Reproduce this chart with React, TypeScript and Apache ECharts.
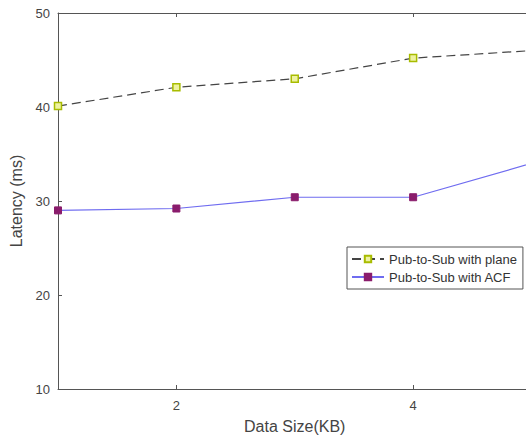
import React, { useEffect, useRef } from "react";
import * as echarts from "echarts";

const dataSizes = [1, 2, 3, 4, 5];
const planeLatency = [40.1, 42.1, 43.0, 45.2, 46.0];
const acfLatency = [29.0, 29.2, 30.4, 30.4, 34.0];
const xTickValues = [2, 4];
const seriesNames = ["Pub-to-Sub with plane", "Pub-to-Sub with ACF"];

const FONT = "Liberation Sans, Arial, sans-serif";

export default function App() {
  const ref = useRef<HTMLDivElement>(null);
  useEffect(() => {
    if (!ref.current) return;
    const chart = echarts.init(ref.current, undefined, { renderer: "svg" });
    const axisLineStyle = { color: "#555", width: 1 };
    chart.setOption({
      animation: false,
      backgroundColor: "#fff",
      textStyle: { fontFamily: FONT },
      grid: { left: 58, right: 0.5, top: 13, bottom: 50, containLabel: false },
      legend: {
        orient: "vertical",
        left: 347,
        top: 247,
        padding: [5, 6, 5, 4],
        itemGap: 4,
        itemWidth: 32,
        itemHeight: 8,
        borderColor: "#555",
        borderWidth: 1,
        backgroundColor: "#fff",
        borderRadius: 0,
        textStyle: { fontSize: 13, color: "#333", fontFamily: FONT, lineHeight: 14 },
        data: seriesNames,
      },
      xAxis: [
        {
          type: "value",
          min: 1,
          max: 5,
          name: "Data Size(KB)",
          nameLocation: "middle",
          nameGap: 29,
          nameTextStyle: { fontSize: 16, color: "#444", fontFamily: FONT },
          axisLine: { show: true, onZero: false, lineStyle: axisLineStyle },
          axisTick: { show: true, inside: true, length: 4, customValues: xTickValues, lineStyle: axisLineStyle },
          axisLabel: { show: true, customValues: xTickValues, margin: 10, fontSize: 13, color: "#444", fontFamily: FONT },
          splitLine: { show: false },
        },
        {
          type: "value",
          position: "top",
          min: 1,
          max: 5,
          axisLine: { show: true, onZero: false, lineStyle: axisLineStyle },
          axisTick: { show: true, inside: true, length: 4, customValues: xTickValues, lineStyle: axisLineStyle },
          axisLabel: { show: false },
          splitLine: { show: false },
        },
      ],
      yAxis: {
        type: "value",
        min: 10,
        max: 50,
        interval: 10,
        name: "Latency (ms)",
        nameLocation: "middle",
        nameGap: 31,
        nameRotate: 90,
        nameTextStyle: { fontSize: 16, color: "#444", fontFamily: FONT },
        axisLine: { show: true, onZero: false, lineStyle: axisLineStyle },
        axisTick: { show: true, inside: true, length: 4, lineStyle: axisLineStyle },
        axisLabel: { margin: 8, fontSize: 13, color: "#444", fontFamily: FONT },
        splitLine: { show: false },
      },
      series: [
        {
          name: seriesNames[0],
          type: "line",
          data: dataSizes.map((x, i) => [x, planeLatency[i]]),
          symbol: "rect",
          symbolSize: 7,
          itemStyle: { color: "#eef2a0", borderColor: "#a8bc00", borderWidth: 1.5 },
          lineStyle: { color: "#444", width: 1.2, type: [9, 5] },
        },
        {
          name: seriesNames[1],
          type: "line",
          data: dataSizes.map((x, i) => [x, acfLatency[i]]),
          symbol: "rect",
          symbolSize: 7,
          itemStyle: { color: "#8a1c6c", borderColor: "#8a1c6c", borderWidth: 1 },
          lineStyle: { color: "#6f6cf0", width: 1.2 },
        },
      ],
    });
    return () => chart.dispose();
  }, []);
  return (
    <div style={{ position: "absolute", left: 0, top: 0, width: 526, height: 439, overflow: "hidden", background: "#fff" }}>
      <div ref={ref} style={{ width: 532, height: 439 }} />
    </div>
  );
}
